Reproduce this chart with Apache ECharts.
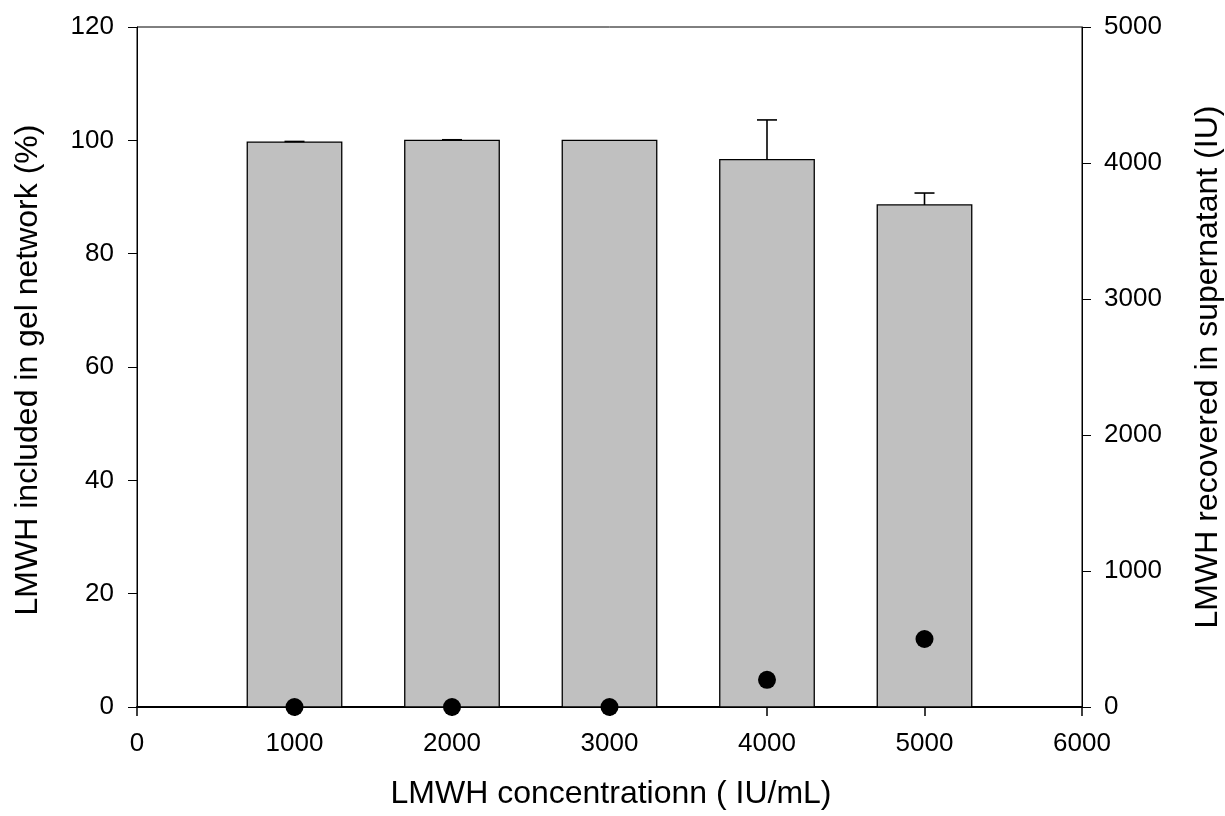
<!DOCTYPE html>
<html>
<head>
<meta charset="utf-8">
<script src="https://cdn.jsdelivr.net/npm/echarts@6/dist/echarts.min.js"></script>
<style>html,body{margin:0;padding:0;background:#fff;}#chart{width:1225px;height:816px;}</style>
</head>
<body>
<div id="chart"></div>
<script>
const concentrations = [1000, 2000, 3000, 4000, 5000];
const includedPct = [99.7, 100.0, 100.0, 96.6, 88.6];
const includedErr = [0.1, 0.1, 0, 7.0, 2.1];
const recoveredIU = [0, 0, 0, 200, 500];
const xTicks = [0, 1000, 2000, 3000, 4000, 5000, 6000];
const xTitle = 'LMWH concentrationn ( IU/mL)';
const yLeftTitle = 'LMWH included in gel network (%)';
const yRightTitle = 'LMWH recovered in supernatant (IU)';

const BAR_HALF = 300;
const chart = echarts.init(document.getElementById('chart'), null, {renderer: 'canvas'});
const font = 'Liberation Sans, Arial, sans-serif';
const plain = v => String(v);

const barData = concentrations.map((c, i) => [c, includedPct[i], includedErr[i]]);
const dotData = concentrations.map((c, i) => [c, recoveredIU[i]]);

chart.setOption({
  animation: false,
  backgroundColor: '#fff',
  grid: {left: 137, right: 143, top: 27, bottom: 109, show: true, borderColor: '#000', borderWidth: 1, backgroundColor: 'transparent'},
  graphic: [
    {type: 'text', x: 611, y: 794, style: {text: xTitle, font: '32px ' + font, fill: '#000', textAlign: 'center', textVerticalAlign: 'middle'}},
    {type: 'text', x: 28, y: 370, rotation: Math.PI / 2, style: {text: yLeftTitle, font: '32px ' + font, fill: '#000', textAlign: 'center', textVerticalAlign: 'middle'}},
    {type: 'text', x: 1208, y: 367, rotation: Math.PI / 2, style: {text: yRightTitle, font: '32px ' + font, fill: '#000', textAlign: 'center', textVerticalAlign: 'middle'}}
  ],
  xAxis: {
    type: 'value', min: xTicks[0], max: xTicks[xTicks.length - 1], interval: 1000,
    axisLine: {show: true, lineStyle: {color: '#000', width: 2}},
    axisTick: {show: true, inside: false, length: 9, lineStyle: {color: '#000', width: 1.5}},
    axisLabel: {fontFamily: font, fontSize: 26, color: '#000', margin: 24, formatter: plain},
    splitLine: {show: false}
  },
  yAxis: [{
    type: 'value', min: 0, max: 120, interval: 20, position: 'left',
    axisLine: {show: true, lineStyle: {color: '#000', width: 1}},
    axisTick: {show: true, inside: false, length: 9, lineStyle: {color: '#000', width: 1}},
    axisLabel: {fontFamily: font, fontSize: 26, color: '#000', margin: 23, formatter: plain},
    splitLine: {show: false}
  }, {
    type: 'value', min: 0, max: 5000, interval: 1000, position: 'right',
    axisLine: {show: true, lineStyle: {color: '#000', width: 1}},
    axisTick: {show: true, inside: false, length: 9, lineStyle: {color: '#000', width: 1}},
    axisLabel: {fontFamily: font, fontSize: 26, color: '#000', margin: 22, formatter: plain},
    splitLine: {show: false}
  }],
  series: [{
    type: 'custom',
    yAxisIndex: 0,
    data: barData,
    encode: {x: 0, y: 1},
    z: 2,
    renderItem: function (params, api) {
      const x = api.value(0), y = api.value(1), e = api.value(2);
      const p0 = api.coord([x - BAR_HALF, 0]);
      const p1 = api.coord([x + BAR_HALF, y]);
      const children = [{
        type: 'rect',
        shape: {x: p0[0], y: p1[1], width: p1[0] - p0[0], height: p0[1] - p1[1]},
        style: {fill: '#c0c0c0', stroke: '#000', lineWidth: 1.3}
      }];
      if (e > 0) {
        const top = api.coord([x, y + e]);
        children.push({type: 'line', shape: {x1: top[0], y1: p1[1], x2: top[0], y2: top[1]}, style: {stroke: '#000', lineWidth: 1.6}});
        children.push({type: 'line', shape: {x1: top[0] - 10, y1: top[1], x2: top[0] + 10, y2: top[1]}, style: {stroke: '#000', lineWidth: 1.6}});
      }
      return {type: 'group', children: children};
    }
  }, {
    type: 'scatter',
    yAxisIndex: 1,
    data: dotData,
    symbol: 'circle',
    symbolSize: 18,
    itemStyle: {color: '#000', opacity: 1},
    clip: false,
    z: 5
  }]
});
</script>
</body>
</html>
